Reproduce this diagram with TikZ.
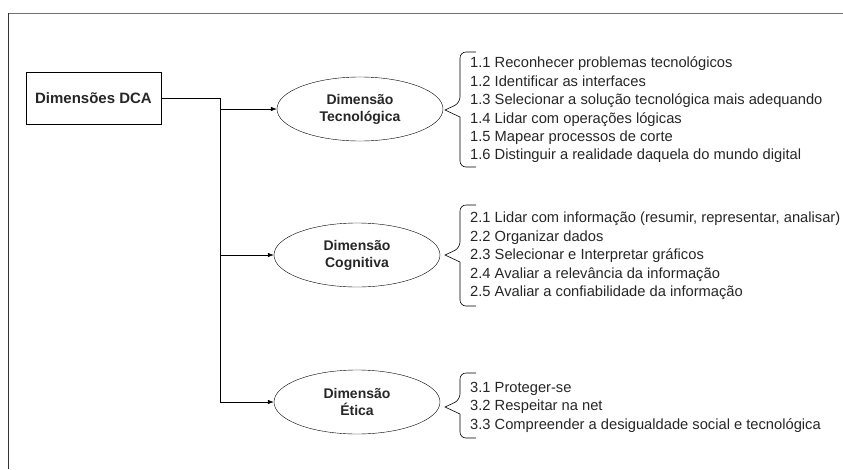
\documentclass[tikz,border=0pt]{standalone}
\usepackage{fontspec}
\setmainfont{Liberation Sans}
\usetikzlibrary{shapes.geometric,arrows.meta}
\begin{document}
\begin{tikzpicture}[x=1pt,y=-1pt,
  every node/.style={text=black!85},
  frame/.style={line width=1pt},
  dimbox/.style={draw, rectangle, minimum width=135pt, minimum height=52pt, inner sep=0pt, font=\bfseries\fontsize{15}{17}\selectfont},
  dimell/.style={draw, ellipse, minimum width=166pt, minimum height=64pt, inner sep=0pt, align=center, font=\bfseries\fontsize{14}{17}\selectfont},
  conn/.style={line width=0.6pt, -{Latex[length=6pt,width=4.5pt]}},
  plain/.style={line width=0.6pt},
  brace/.style={line width=0.6pt, rounded corners=6pt},
  items/.style={anchor=west, align=left, inner sep=0pt, font=\fontsize{14.7}{18.4}\selectfont}
]
\useasboundingbox (0,0) rectangle (843,469);
% frame
\draw[frame, black!55] (8,13) -- (843,13);
\draw[frame, black!80] (8,13) -- (8,469);

\node[dimbox] (d) at (93.5,98) {Dimensões DCA};
\node[dimell] (e1) at (360,109) {Dimensão\\Tecnológica};
\node[dimell] (e2) at (357,255) {Dimensão\\Cognitiva};
\node[dimell] (e3) at (357,402) {Dimensão\\Ética};

\coordinate (j0) at (220,98);
\coordinate (j1) at (220,109);
\coordinate (j2) at (220,255);
\draw[plain] (d.east) -- (j0);
\draw[conn] (j0) |- (e3.west);
\draw[conn] (j1) -- (e1.west);
\draw[conn] (j2) -- (e2.west);

% braces
\draw[brace] (476,52) -- (460,52) -- (460,103) [sharp corners] -- (445,110) -- (460,117) [rounded corners=6pt] -- (460,167) -- (476,167);
\draw[brace] (476,205) -- (460,205) -- (460,248) [sharp corners] -- (445,255) -- (460,262) [rounded corners=6pt] -- (460,306) -- (476,306);
\draw[brace] (476,373) -- (460,373) -- (460,400) [sharp corners] -- (445,407) -- (460,414) [rounded corners=6pt] -- (460,438) -- (476,438);

\node[items] (t1) at (470,110) {1.1 Reconhecer problemas tecnológicos\\
1.2 Identificar as interfaces\\
1.3 Selecionar a solução tecnológica mais adequando\\
1.4 Lidar com operações lógicas\\
1.5 Mapear processos de corte\\
1.6 Distinguir a realidade daquela do mundo digital};
\node[items] (t2) at (470,256) {2.1 Lidar com informação (resumir, representar, analisar)\\
2.2 Organizar dados\\
2.3 Selecionar e Interpretar gráficos\\
2.4 Avaliar a relevância da informação\\
2.5 Avaliar a confiabilidade da informação};
\node[items] (t3) at (470,407) {3.1 Proteger-se\\
3.2 Respeitar na net\\
3.3 Compreender a desigualdade social e tecnológica};
\end{tikzpicture}
\end{document}
